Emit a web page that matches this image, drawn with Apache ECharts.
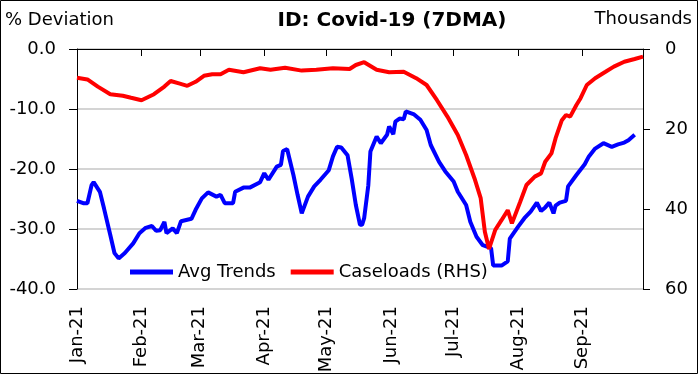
<!DOCTYPE html>
<html>
<head>
<meta charset="utf-8">
<script src="https://cdn.jsdelivr.net/npm/echarts@6/dist/echarts.min.js"></script>
<style>
  html, body { margin: 0; padding: 0; background: #fff; }
  #chart { width: 699px; height: 377px; }
</style>
</head>
<body>
<div id="chart"></div>
<script>
// x values are day numbers counted from 1 Jan 2021
const monthLabels = ['Jan-21', 'Feb-21', 'Mar-21', 'Apr-21', 'May-21', 'Jun-21', 'Jul-21', 'Aug-21', 'Sep-21']
const monthStarts = [0, 31, 59, 90, 120, 151, 181, 212, 243]
const leftTicks = [0, -10, -20, -30, -40]
const rightTicks = [0, 20, 40, 60]

// Avg Trends, % deviation (left axis)
const trendDays = [0, 3, 5, 7, 8, 11, 13, 16, 18, 20, 23, 27, 30, 33, 36, 38, 40, 42, 43, 46, 48, 50, 55, 57, 60, 63,
  67, 69, 71, 75, 76, 80, 83, 88, 90, 92, 96, 98, 99, 101, 104, 106, 108, 111, 114, 117, 121, 123, 125, 127, 130,
  132, 134, 136, 137, 138, 140, 141, 144, 146, 149, 150, 152, 153, 155, 157, 158, 162, 165, 168, 170, 174, 177,
  181, 183, 187, 189, 192, 195, 199, 200, 204, 207, 208, 212, 215, 218, 221, 223, 225, 227, 229, 230, 232, 235,
  236, 240, 244, 246, 249, 253, 257, 260, 263, 265, 268]
const trendValues = [-25.3, -25.7, -25.7, -22.7, -22.2, -23.8, -26.6, -31, -34, -34.9, -34, -32.4, -30.7, -29.8,
  -29.5, -30.3, -30.2, -28.8, -30.7, -29.9, -30.7, -28.7, -28.3, -26.8, -24.9, -23.9, -24.6, -24.3, -25.7, -25.7,
  -23.8, -23.1, -23.1, -22.2, -20.7, -21.8, -19.6, -19.3, -17, -16.7, -21, -24.3, -27.4, -24.6, -22.9, -21.8, -20.2,
  -17.9, -16.3, -16.4, -17.7, -21.6, -26, -29.3, -29.3, -28.2, -22.7, -17.1, -14.6, -15.7, -14.3, -12.9, -14.2,
  -12.1, -11.6, -11.7, -10.4, -10.9, -11.8, -13.5, -16, -18.8, -20.4, -22.1, -23.8, -26, -28.8, -31.3, -32.7,
  -33.2, -36.1, -36.1, -35.4, -31.6, -29.6, -28.2, -27.1, -25.6, -27, -26.4, -25.6, -27.4, -26.1, -25.6, -25.3,
  -22.9, -21, -19.2, -17.9, -16.6, -15.7, -16.3, -15.9, -15.6, -15.2, -14.3]

// Caseloads in thousands (right axis, inverted)
const caseDays = [0, 5, 10, 16, 22, 26, 31, 37, 42, 45, 49, 53, 57, 61, 65, 69, 73, 80, 88, 93, 100, 108, 115, 123,
  131, 134, 138, 144, 150, 157, 163, 168, 173, 178, 183, 187, 191, 194, 196, 198, 201, 204, 207, 209, 213, 216,
  220, 223, 225, 228, 230, 233, 235, 237, 240, 242, 245, 249, 254, 258, 263, 268, 272]
const caseValues = [7.2, 7.6, 9.4, 11.3, 11.7, 12.2, 12.8, 11.3, 9.4, 8.0, 8.6, 9.2, 8.2, 6.7, 6.3, 6.3, 5.2, 5.8,
  4.8, 5.2, 4.7, 5.4, 5.2, 4.8, 5.0, 4.0, 3.3, 5.2, 5.8, 5.7, 7.3, 9.0, 12.8, 16.9, 21.5, 26.5, 32.3, 37.3, 45.7,
  50, 45.2, 42.8, 40.3, 43.6, 38.2, 34, 31.9, 31.1, 28.2, 26.1, 22.3, 17.8, 16.5, 16.9, 14, 12.3, 9, 7.3, 5.7,
  4.4, 3.2, 2.5, 1.9]

const FONT = 'DejaVu Sans'
const pair = (xs, ys) => xs.map((x, i) => [x, ys[i]])

const chart = echarts.init(document.getElementById('chart'))

chart.setOption({
  animation: false,
  grid: { left: 77, right: 56, top: 49, bottom: 88 },
  graphic: [
    { type: 'rect', shape: { x: 0.5, y: 0.5, width: 697, height: 373 }, style: { fill: 'none', stroke: '#000', lineWidth: 1 } },
    { type: 'text', x: 5, y: 20, style: { text: '% Deviation', font: '18px "DejaVu Sans"', fill: '#000', textVerticalAlign: 'middle' } },
    { type: 'text', x: 392, y: 21, style: { text: 'ID: Covid-19 (7DMA)', font: 'bold 20px "DejaVu Sans"', fill: '#000', textAlign: 'center', textVerticalAlign: 'middle' } },
    { type: 'text', x: 692, y: 19, style: { text: 'Thousands', font: '18px "DejaVu Sans"', fill: '#000', textAlign: 'right', textVerticalAlign: 'middle' } }
  ],
  legend: {
    left: 125,
    top: 258,
    itemWidth: 43,
    itemHeight: 5,
    itemGap: 15,
    icon: 'rect',
    textStyle: { fontFamily: FONT, fontSize: 18, color: '#000' },
    data: ['Avg Trends', 'Caseloads (RHS)']
  },
  xAxis: [
    {
      type: 'value',
      position: 'top',
      min: 0,
      max: 272,
      axisLine: { onZero: false, lineStyle: { color: '#000', width: 1 } },
      axisTick: { inside: true, length: 7, customValues: monthStarts, lineStyle: { color: '#000' } },
      axisLabel: { show: false },
      splitLine: { show: false }
    },
    {
      type: 'value',
      position: 'bottom',
      min: 0,
      max: 272,
      axisLine: { show: false, onZero: false },
      axisTick: { show: false },
      axisLabel: {
        customValues: monthStarts,
        rotate: 90,
        margin: 17,
        fontFamily: FONT,
        fontSize: 18,
        color: '#000',
        formatter: (v) => monthLabels[monthStarts.indexOf(v)]
      },
      splitLine: { show: false }
    }
  ],
  yAxis: [
    {
      type: 'value',
      min: -40,
      max: 0,
      interval: 10,
      position: 'left',
      axisLine: { show: true, onZero: false, lineStyle: { color: '#000', width: 1 } },
      axisTick: { show: true, length: 8, lineStyle: { color: '#000' } },
      axisLabel: {
        margin: 21,
        fontFamily: FONT,
        fontSize: 18,
        color: '#000',
        formatter: (v) => leftTicks.includes(v) ? v.toFixed(1) : ''
      },
      splitLine: { show: true, lineStyle: { color: '#d4d4d4', width: 2 } }
    },
    {
      type: 'value',
      min: 0,
      max: 60,
      interval: 20,
      inverse: true,
      position: 'right',
      axisLine: { show: true, onZero: false, lineStyle: { color: '#000', width: 1 } },
      axisTick: { show: true, length: 7, lineStyle: { color: '#000' } },
      axisLabel: {
        margin: 22,
        fontFamily: FONT,
        fontSize: 18,
        color: '#000',
        formatter: (v) => rightTicks.includes(v) ? String(v) : ''
      },
      splitLine: { show: false }
    }
  ],
  series: [
    {
      name: 'Avg Trends',
      type: 'line',
      xAxisIndex: 0,
      yAxisIndex: 0,
      data: pair(trendDays, trendValues),
      showSymbol: false,
      color: '#0000ff',
      lineStyle: { color: '#0000ff', width: 4 }
    },
    {
      name: 'Caseloads (RHS)',
      type: 'line',
      xAxisIndex: 0,
      yAxisIndex: 1,
      data: pair(caseDays, caseValues),
      showSymbol: false,
      color: '#ff0000',
      lineStyle: { color: '#ff0000', width: 4 }
    }
  ]
})
</script>
</body>
</html>
